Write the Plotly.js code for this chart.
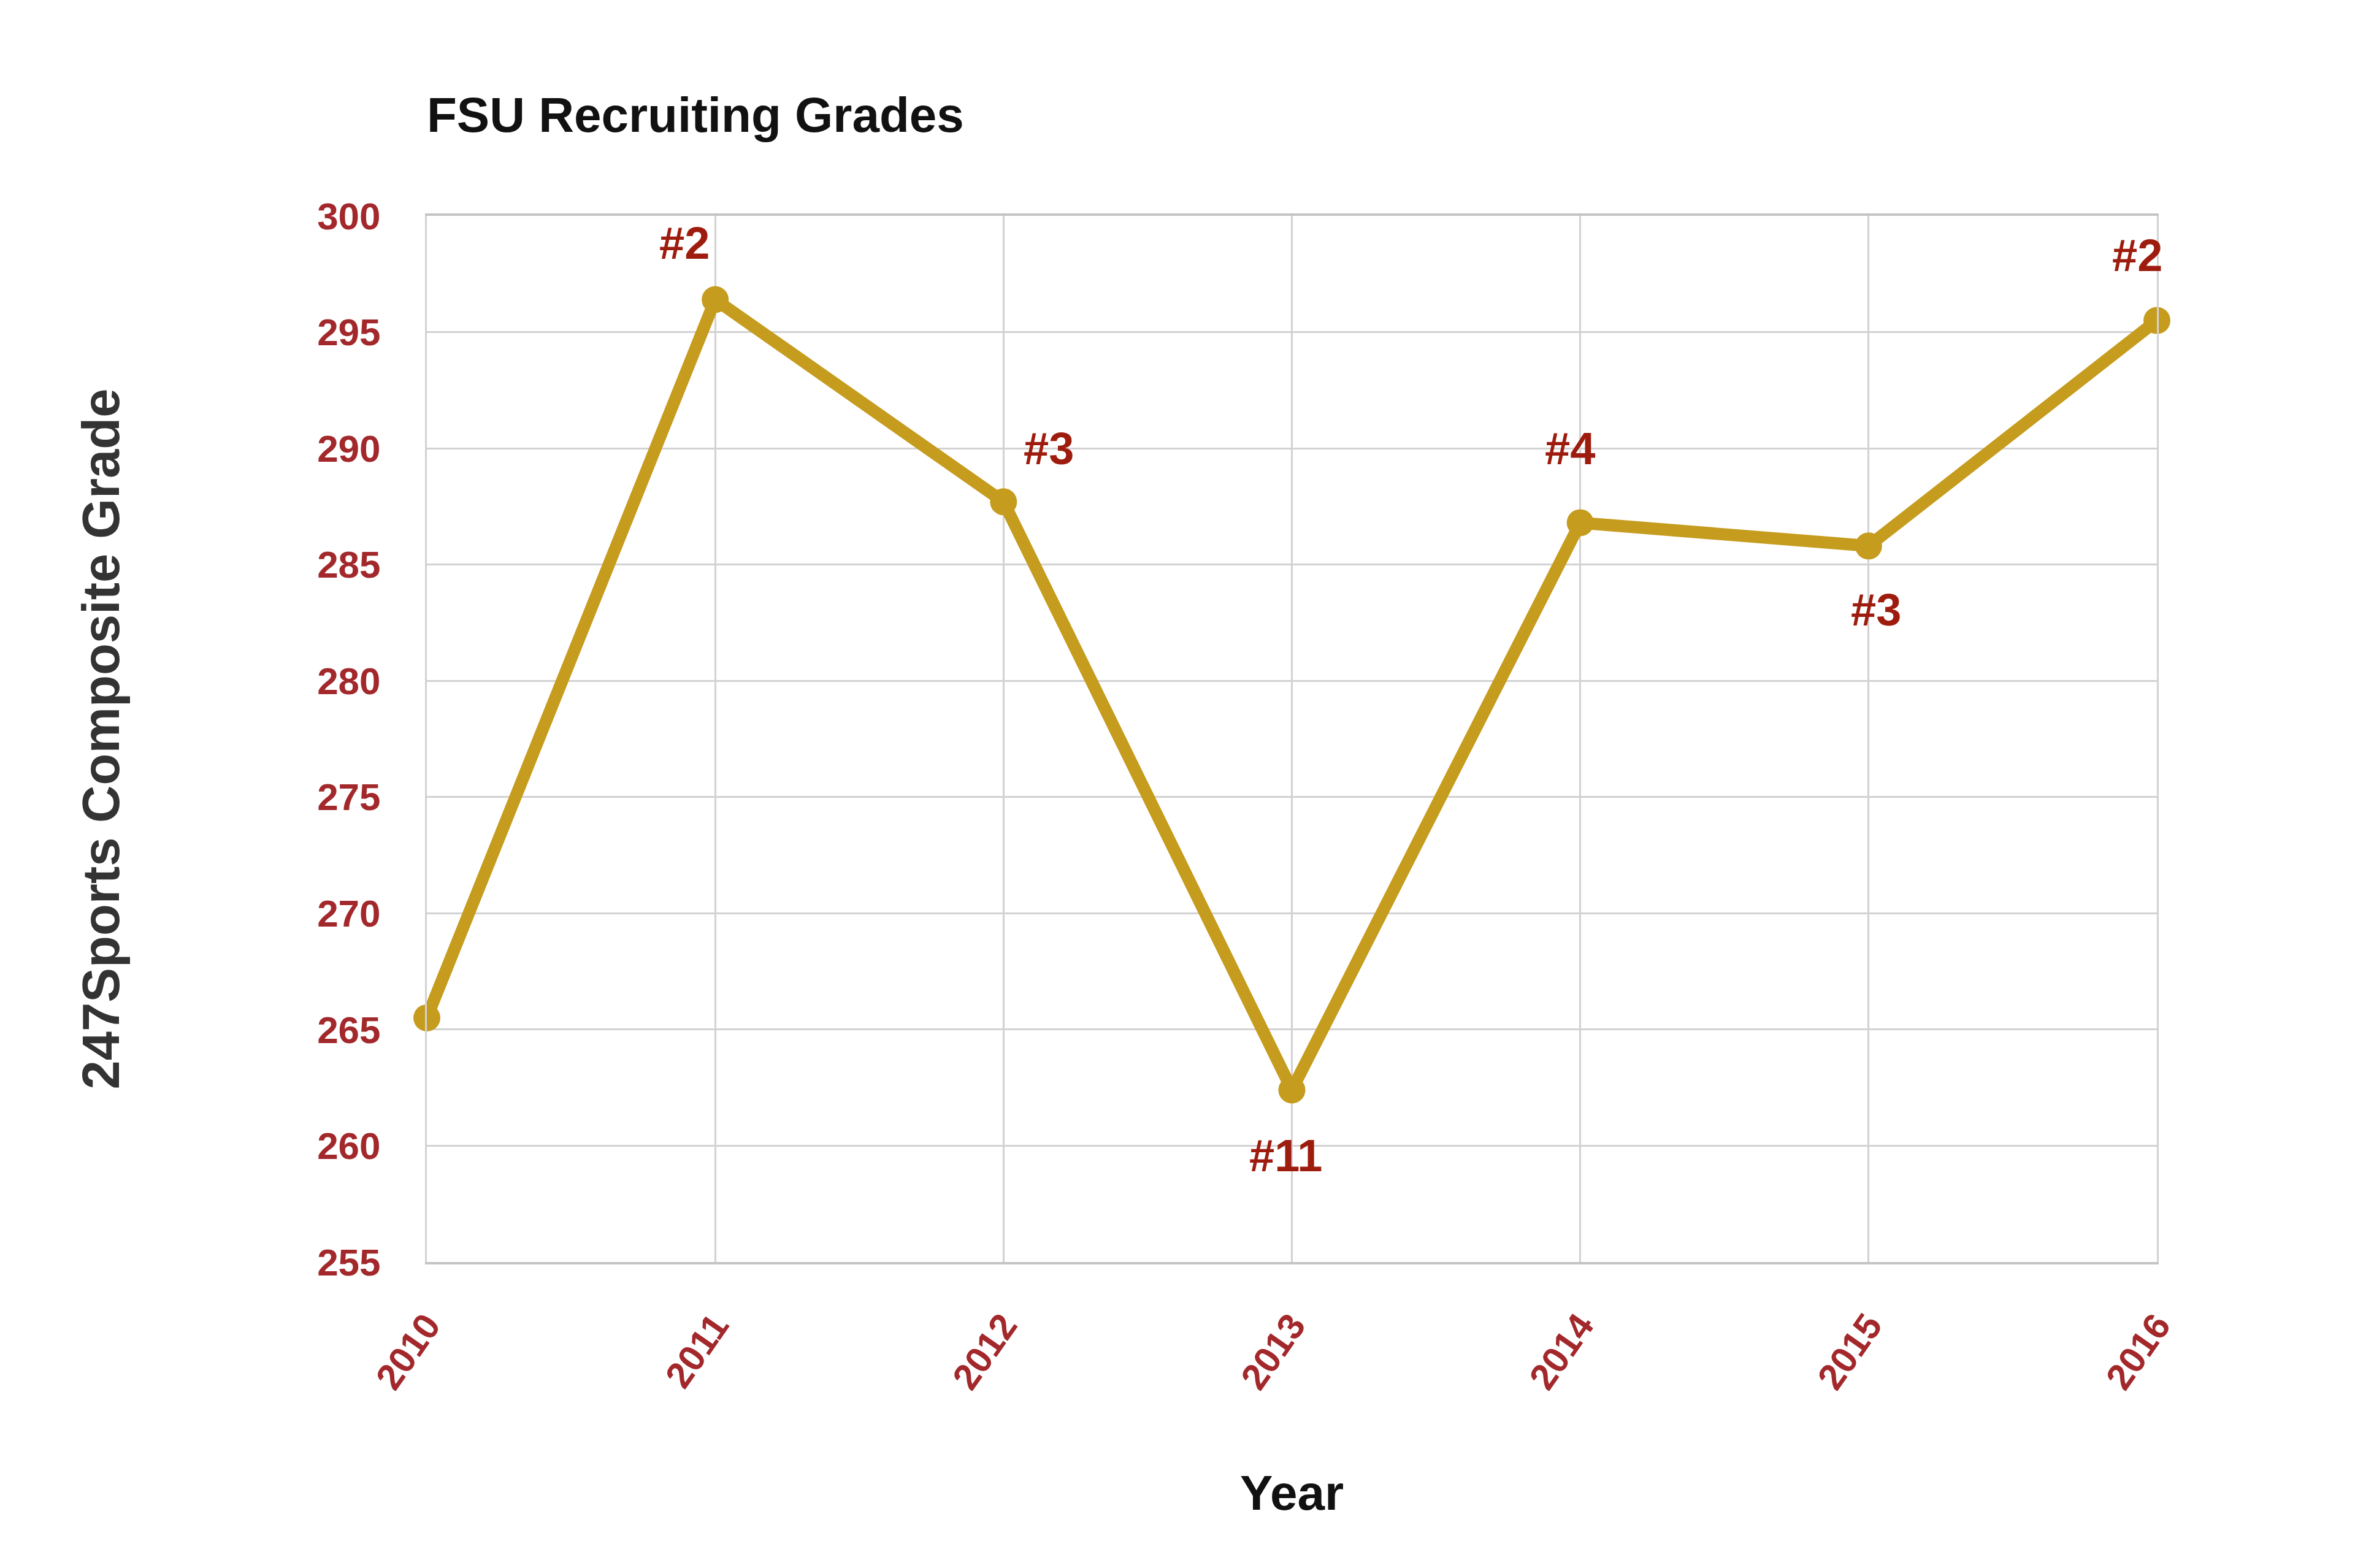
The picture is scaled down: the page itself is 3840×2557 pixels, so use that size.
<!DOCTYPE html>
<html>
<head>
<meta charset="utf-8">
<script src="https://cdn.plot.ly/plotly-3.0.1.min.js"></script>
<style>
  html, body { margin: 0; padding: 0; background: #fff; }
  #plot { width: 3840px; height: 2557px; }
</style>
</head>
<body>
<div id="plot"></div>
<script>
// FSU recruiting class, 247Sports composite grade by year
const years = [2010, 2011, 2012, 2013, 2014, 2015, 2016];
const grades = [265.5, 296.4, 287.7, 262.4, 286.8, 285.8, 295.5];
const ranks = ['', '#2', '#3', '#11', '#4', '#3', '#2'];
const yTicks = [255, 260, 265, 270, 275, 280, 285, 290, 295, 300];

// label offsets (px) from each point
const labelDx = [0, -50, 74, -10, -17, 12, -32];
const labelDy = [0, 92, 87, -107, 121, -104, 106];

const gold = '#c69c1e';
const tickRed = '#a3282b';
const rankRed = '#9e1c0e';

const trace = {
  x: years,
  y: grades,
  type: 'scatter',
  mode: 'lines+markers',
  line: { color: gold, width: 20 },
  marker: { color: gold, size: 44 },
  cliponaxis: false,
  hoverinfo: 'x+y'
};

const annotations = years.map((yr, i) => ({
  x: yr,
  y: grades[i],
  xref: 'x',
  yref: 'y',
  text: ranks[i],
  showarrow: false,
  xshift: labelDx[i],
  yshift: labelDy[i],
  font: { family: 'Liberation Sans Narrow, Liberation Sans, Arial', size: 74, color: rankRed, weight: 'bold' }
})).filter(a => a.text !== '');

const layout = {
  width: 3840,
  height: 2557,
  paper_bgcolor: '#ffffff',
  plot_bgcolor: '#ffffff',
  showlegend: false,
  margin: { l: 696, r: 323, t: 352, b: 499 },
  title: {
    text: 'FSU Recruiting Grades',
    font: { family: 'Liberation Sans, Arial', size: 80, color: '#111111', weight: 'bold' },
    x: 0,
    xref: 'paper',
    xanchor: 'left',
    y: 0.927,
    yref: 'container',
    yanchor: 'middle'
  },
  xaxis: {
    range: [2010, 2016],
    tickvals: years,
    ticktext: years.map(String),
    tickangle: -55,
    tickfont: { family: 'Liberation Sans, Arial', size: 60, color: tickRed, weight: 'bold' },
    ticklabelstandoff: 40,
    showgrid: true,
    gridcolor: '#d2d2d2',
    gridwidth: 3,
    zeroline: false,
    showline: true,
    linecolor: '#c4c4c4',
    linewidth: 4,
    mirror: true,
    automargin: false,
    title: {
      text: 'Year',
      font: { family: 'Liberation Sans, Arial', size: 80, color: '#111111', weight: 'bold' },
      standoff: 130
    }
  },
  yaxis: {
    range: [255, 300],
    tickvals: yTicks,
    tickfont: { family: 'Liberation Sans, Arial', size: 62, color: tickRed, weight: 'bold' },
    ticklabelstandoff: 60,
    showgrid: true,
    gridcolor: '#d2d2d2',
    gridwidth: 3,
    zeroline: false,
    showline: true,
    linecolor: '#d2d2d2',
    linewidth: 3,
    mirror: true,
    automargin: false,
    title: {
      text: '247Sports Composite Grade',
      font: { family: 'Liberation Sans, Arial', size: 85, color: '#333333', weight: 'bold' },
      standoff: 295
    }
  },
  annotations: annotations
};

Plotly.newPlot('plot', [trace], layout, { displayModeBar: false, staticPlot: true });
</script>
</body>
</html>
